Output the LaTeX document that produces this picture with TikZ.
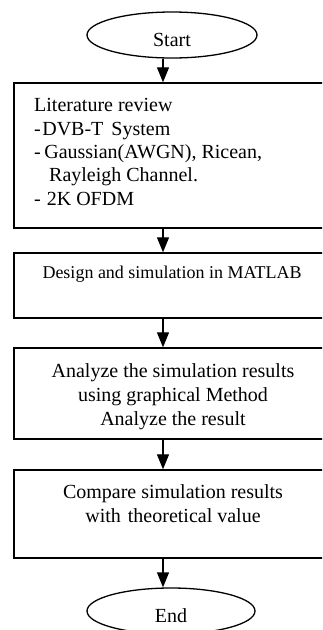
\documentclass[tikz,border=0pt]{standalone}
\usepackage{fontspec}
\setmainfont{Liberation Serif}
\usetikzlibrary{arrows.meta,shapes.geometric}
\begin{document}
\begin{tikzpicture}[x=1pt,y=-1pt,
  flowbox/.style={draw, line width=1.4pt, rectangle, minimum width=316pt, inner sep=0pt},
  term/.style={draw, line width=1.3pt, ellipse, inner sep=0pt, minimum width=170pt, minimum height=46pt, font=\fontsize{20}{23}\selectfont, text height=22pt, text depth=0pt},
  txt/.style={inner sep=0pt, font=\fontsize{20}{23.3}\selectfont},
  flow/.style={line width=1.3pt, -{Triangle[length=15pt,width=12pt]}}
]
\useasboundingbox[fill=white] (0,0) rectangle (322,630);
\clip (0,0) rectangle (322,630);
\node[term] (start) at (172,35) {Start};
\node[flowbox, minimum height=145pt] (b1) at (172,155.5) {};
\node[flowbox, minimum height=65pt] (b2) at (172,285.5) {};
\node[flowbox, minimum height=91pt] (b3) at (172,393.5) {};
\node[flowbox, minimum height=88pt] (b4) at (172,514) {};
\node[term, minimum width=168pt] (end) at (171,611) {End};
\node[txt, anchor=base west, align=left] (t1) at (34,205) {Literature review\\-\hspace{1.5pt}DVB-T\hspace{8pt}System\\-\hspace{3.5pt}Gaussian(AWGN), Ricean,\\\hspace*{15pt}Rayleigh Channel.\\-\hspace{6pt}2K OFDM};
\node[txt, anchor=base, font=\fontsize{18}{21}\selectfont] (t2) at (172,278) {Design and simulation in MATLAB};
\node[txt, anchor=base, align=center, font=\fontsize{20}{24}\selectfont] (t3) at (173,425) {Analyze the simulation results\\using graphical Method\\Analyze the result};
\node[txt, anchor=base, align=center, font=\fontsize{20}{24}\selectfont] (t4) at (173,522) {Compare simulation results\\with\hspace{7pt}theoretical value};
\coordinate (ax) at (163,0);
\draw[flow] (start.south -| ax) -- (b1.north -| ax);
\draw[flow] (b1.south -| ax) -- (b2.north -| ax);
\draw[flow] (b2.south -| ax) -- (b3.north -| ax);
\draw[flow] (b3.south -| ax) -- (b4.north -| ax);
\draw[flow] (b4.south -| ax) -- (end.north -| ax);
\end{tikzpicture}
\end{document}
